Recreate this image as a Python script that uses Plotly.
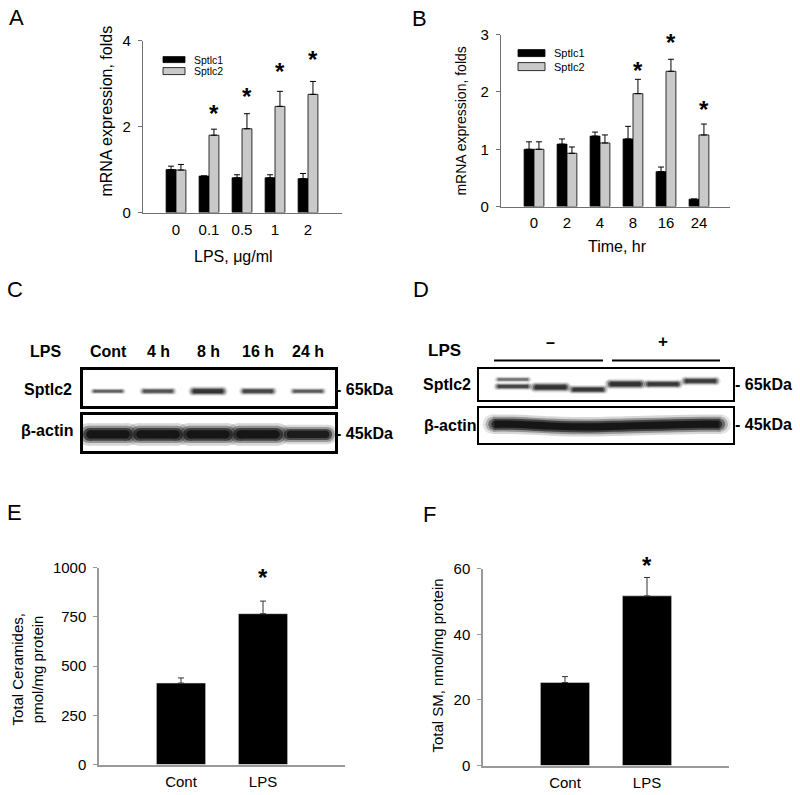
import plotly.graph_objects as go

W, H = 800, 795
FONT = "Liberation Sans, Arial, sans-serif"
# the photographed page is slightly squeezed vertically; compensate so positions land where intended
Y_OFF, Y_K = 9.4, 0.9786


def px(x):
    return x / W


def py(y):
    return 1 - ((y - Y_OFF) / Y_K) / H


# ---------------- data ----------------
# Panel A: dose response
a_doses = ["0", "0.1", "0.5", "1", "2"]
a_sptlc1 = [1.00, 0.85, 0.81, 0.81, 0.79]
a_sptlc1_err = [0.08, 0.0, 0.07, 0.07, 0.12]
a_sptlc2 = [0.99, 1.80, 1.95, 2.47, 2.75]
a_sptlc2_err = [0.13, 0.14, 0.35, 0.35, 0.30]
a_star = [None, 2.31, 2.69, 3.29, 3.57]

# Panel B: time course
b_times = ["0", "2", "4", "8", "16", "24"]
b_sptlc1 = [1.00, 1.09, 1.23, 1.18, 0.61, 0.13]
b_sptlc1_err = [0.13, 0.09, 0.07, 0.22, 0.08, 0.0]
b_sptlc2 = [1.00, 0.93, 1.11, 1.97, 2.36, 1.25]
b_sptlc2_err = [0.13, 0.11, 0.14, 0.25, 0.21, 0.19]
b_star = [None, None, None, 2.37, 2.86, 1.70]

# Panel C: western blot, time course
c_lanes = ["Cont", "4 h", "8 h", "16 h", "24 h"]
c_sptlc2_dark = [0.60, 0.68, 0.92, 0.78, 0.62]
c_sptlc2_thick = [4.0, 5.0, 6.5, 5.5, 4.5]
c_sptlc2_shift = [-0.2, -0.2, -0.2, -0.2, -0.2]
c_actin_dark = [1.3, 1.3, 1.3, 1.3, 1.2]
c_actin_thick = [15, 15, 15, 15, 13]
c_actin_shift = [-0.1, -0.1, -0.1, -0.1, -0.1]

# Panel D: western blot, -/+ LPS triplicates
d_groups = ["–", "+"]
d_sptlc2_dark = [0.78, 0.92, 0.88, 0.95, 0.9, 0.85]
d_sptlc2_thick = [5.0, 7.0, 6.0, 7.0, 6.0, 6.0]
d_sptlc2_shift = [-0.15, -0.2, -0.35, 0.0, 0.0, 0.2]
d_upper_dark = [0.5, 0, 0, 0, 0, 0]
d_upper_shift = [0.3, 0, 0, 0, 0, 0]
d_actin_thick = 13
d_actin_dark = 1.3
d_actin_shift = [0.05, -0.05, -0.1, -0.05, 0.0, 0.05]

# Panel E / F
ef_groups = ["Cont", "LPS"]
e_ceramide = [414, 766]
e_err = [26, 64]
e_range = [0, 1000]
e_star = [None, 949]
f_sm = [25.3, 51.7]
f_err = [1.8, 5.6]
f_range = [0, 60]
f_star = [None, 61.0]

BARGAP = 0.4
GRAY = "#c9c9c9"

fig = go.Figure()
ann = []


def err(arr, color="black"):
    return dict(type="data", array=arr, arrayminus=[0] * len(arr), symmetric=False,
                color=color, thickness=1, width=3)


def stars_ann(xs, ys, xa, ya, rng):
    # placed in the axis-domain frame so a star just above the axis top is still drawn
    for x, y in zip(xs, ys):
        ann.append(dict(text="<b>*</b>", x=x, y=(y - rng[0]) / (rng[1] - rng[0]), xref=xa, yref=ya + " domain",
                        showarrow=False, xanchor="center", yanchor="middle",
                        font=dict(family=FONT, size=24, color="black")))


def pair_panel(xa, ya, vals1, e1, vals2, e2, stars, rng):
    n = len(vals1)
    xs = list(range(n))
    fig.add_trace(go.Bar(x=xs, y=vals1, error_y=err(e1), marker=dict(color="black", line=dict(color="black", width=0.8)),
                         xaxis=xa, yaxis=ya, showlegend=False, hoverinfo="skip"))
    fig.add_trace(go.Bar(x=xs, y=vals2, error_y=err(e2), marker=dict(color=GRAY, line=dict(color="black", width=0.8)),
                         xaxis=xa, yaxis=ya, showlegend=False, hoverinfo="skip"))
    off = (1 - BARGAP) / 4
    sx = [i + off for i, s in enumerate(stars) if s is not None]
    sy = [s for s in stars if s is not None]
    stars_ann(sx, sy, xa, ya, rng)


a_range = [0, 4]
b_range = [0, 3]
pair_panel("x", "y", a_sptlc1, a_sptlc1_err, a_sptlc2, a_sptlc2_err, a_star, a_range)
pair_panel("x2", "y2", b_sptlc1, b_sptlc1_err, b_sptlc2, b_sptlc2_err, b_star, b_range)


def single_panel(xa, ya, vals, e, stars, rng):
    xs = list(range(len(vals)))
    fig.add_trace(go.Bar(x=xs, y=vals, marker=dict(color="black"), error_y=err(e, "#333"),
                         xaxis=xa, yaxis=ya, showlegend=False, hoverinfo="skip"))
    sx = [i for i, s in enumerate(stars) if s is not None]
    sy = [s for s in stars if s is not None]
    stars_ann(sx, sy, xa, ya, rng)


single_panel("x3", "y3", e_ceramide, e_err, e_star, e_range)
single_panel("x4", "y4", f_sm, f_err, f_star, f_range)


# ---------------- blot bands (soft, tapered, round-ended strokes) ----------------
BAND_LAYERS = [(1.0, 1.5, 0.12), (0.97, 1.15, 0.25), (0.93, 0.85, 0.45), (0.88, 0.55, 0.6)]


def add_band(xa, ya, lane, half, shift, thick, dark):
    if dark <= 0:
        return
    for ext, wmul, amul in BAND_LAYERS:
        w = thick * wmul
        fig.add_trace(go.Scatter(x=[lane - half * ext, lane + half * ext], y=[shift, shift], mode="lines+markers",
                                 line=dict(color="#0a0a0a", width=w),
                                 marker=dict(color="#0a0a0a", size=w, line=dict(width=0)),
                                 opacity=min(1.0, amul * dark),
                                 xaxis=xa, yaxis=ya, showlegend=False, hoverinfo="skip"))


def add_row_band(xa, ya, shifts, thick, dark, pad):
    # one continuous band following each lane's migration, ends padded past the outer lanes
    n = len(shifts)
    for ext, wmul, amul in BAND_LAYERS:
        w = thick * wmul
        xs = [-pad * ext] + list(range(n)) + [n - 1 + pad * ext]
        ys = [shifts[0]] + list(shifts) + [shifts[-1]]
        sizes = [w] + [0] * n + [w]
        fig.add_trace(go.Scatter(x=xs, y=ys, mode="lines+markers",
                                 line=dict(color="#0a0a0a", width=w, shape="spline"),
                                 marker=dict(color="#0a0a0a", size=sizes, line=dict(width=0)),
                                 opacity=min(1.0, amul * dark), xaxis=xa, yaxis=ya, showlegend=False,
                                 hoverinfo="skip"))


for i in range(len(c_lanes)):
    add_band("x5", "y5", i, 0.30, c_sptlc2_shift[i], c_sptlc2_thick[i], c_sptlc2_dark[i])
    add_band("x6", "y6", i, 0.40, c_actin_shift[i], c_actin_thick[i], c_actin_dark[i])

for i in range(len(d_sptlc2_dark)):
    add_band("x7", "y7", i, 0.42, d_upper_shift[i], 4.0, d_upper_dark[i])
    add_band("x7", "y7", i, 0.42, d_sptlc2_shift[i], d_sptlc2_thick[i], d_sptlc2_dark[i])
add_row_band("x8", "y8", d_actin_shift, d_actin_thick, d_actin_dark, 0.55)


# ---------------- axes ----------------
def chart_x(x0, x1, rng, vals, txt, size, color, lw, anchor, standoff):
    return dict(domain=[px(x0), px(x1)], range=rng, tickvals=vals, ticktext=txt, showline=True, linecolor=color,
                linewidth=lw, ticks="", showgrid=False, zeroline=False, tickfont=dict(family=FONT, size=size, color="black"),
                ticklabelstandoff=standoff, fixedrange=True, anchor=anchor)


def chart_y(y0, y1, rng, dtick, size, color, lw, anchor):
    return dict(domain=[py(y1), py(y0)], range=rng, dtick=dtick, showline=True, linecolor=color, linewidth=lw,
                ticks="outside", ticklen=4, tickcolor=color, tickwidth=1, showgrid=False, zeroline=False,
                tickfont=dict(family=FONT, size=size, color="black"), anchor=anchor, ticklabelstandoff=4,
                fixedrange=True)


AX_AB = "#707070"
AX_EF = "#999999"


def strip_x(x0, x1, rng, lw, anchor):
    return dict(domain=[px(x0), px(x1)], range=rng, showline=True, mirror=True, linecolor="black", linewidth=lw,
                showticklabels=False, ticks="", showgrid=False, zeroline=False, anchor=anchor, fixedrange=True)


def strip_y(y0, y1, lw, anchor):
    return dict(domain=[py(y1), py(y0)], range=[-1, 1], showline=True, mirror=True, linecolor="black", linewidth=lw,
                showticklabels=False, ticks="", showgrid=False, zeroline=False, anchor=anchor, fixedrange=True)


c_rng = [-0.5, 4.54]
d_rng = [-0.907, 5.867]

fig.update_layout(
    width=W, height=H, margin=dict(l=0, r=0, t=0, b=0), paper_bgcolor="white", plot_bgcolor="rgba(0,0,0,0)",
    barmode="group", bargap=BARGAP, bargroupgap=0, showlegend=False,
    font=dict(family=FONT, color="black"),
    xaxis=chart_x(143, 342, [-1.0, 5.03], list(range(5)), a_doses, 15, AX_AB, 1.2, "y", 3),
    yaxis=chart_y(41, 213, a_range, 2, 15, AX_AB, 1.2, "x"),
    xaxis2=chart_x(501, 730, [-1.0, 5.94], list(range(6)), b_times, 15, AX_AB, 1.2, "y2", 2),
    yaxis2=chart_y(35, 207, b_range, 1, 15, AX_AB, 1.2, "x2"),
    xaxis3=chart_x(99, 345, [-1, 2], [0, 1], ef_groups, 15, AX_EF, 1.5, "y3", 3),
    yaxis3=chart_y(568, 765, e_range, 250, 15, AX_EF, 1.5, "x3"),
    xaxis4=chart_x(483, 729, [-1, 2], [0, 1], ef_groups, 15, AX_EF, 1.5, "y4", 3),
    yaxis4=chart_y(569, 766, f_range, 20, 15, AX_EF, 1.5, "x4"),
    xaxis5=strip_x(83, 335, c_rng, 2.5, "y5"),
    yaxis5=strip_y(370, 406, 2.5, "x5"),
    xaxis6=strip_x(83, 335, c_rng, 2.5, "y6"),
    yaxis6=strip_y(415, 451, 2.5, "x6"),
    xaxis7=strip_x(479, 733, d_rng, 1.5, "y7"),
    yaxis7=strip_y(369, 400, 1.5, "x7"),
    xaxis8=strip_x(479, 733, d_rng, 1.5, "y8"),
    yaxis8=strip_y(408, 443, 1.5, "x8"),
)


def A(text, x, y, size, bold=False, angle=0, xanchor="center", xref="paper"):
    ann.append(dict(text=f"<b>{text}</b>" if bold else text, x=x if xref != "paper" else px(x), y=py(y),
                    xref=xref, yref="paper", showarrow=False, xanchor=xanchor, yanchor="middle", textangle=angle,
                    font=dict(family=FONT, size=size, color="black")))


# panel letters
for letter, lx, ly in [("A", 16, 18), ("B", 419, 19), ("C", 15, 290), ("D", 421, 290), ("E", 14, 513), ("F", 429, 515)]:
    A(letter, lx, ly, 22)

# axis titles
A("mRNA expression, folds", 107, 112, 16, angle=-90)
A("LPS, μg/ml", 233, 257, 16)
A("mRNA expression, folds", 461, 122, 14, angle=-90)
A("Time, hr", 617, 247, 16)
A("Total Ceramides,<br>pmol/mg protein", 28, 670, 15, angle=-90)
A("Total SM, nmol/mg protein", 438, 666, 15, angle=-90)

# manual legends
shapes = []
for (bx0, bx1, r1, r2, tx, fs) in [(163, 185, (57, 63), (68, 75), 192, 10.5), (518, 545, (50, 57), (63, 71), 552, 11)]:
    shapes.append(dict(type="rect", xref="paper", yref="paper", x0=px(bx0), x1=px(bx1), y0=py(r1[1]), y1=py(r1[0]),
                       fillcolor="black", line=dict(color="black", width=0.8)))
    shapes.append(dict(type="rect", xref="paper", yref="paper", x0=px(bx0), x1=px(bx1), y0=py(r2[1]), y1=py(r2[0]),
                       fillcolor=GRAY, line=dict(color="black", width=0.8)))
    A("Sptlc1", tx, (r1[0] + r1[1]) / 2, fs, xanchor="left")
    A("Sptlc2", tx, (r2[0] + r2[1]) / 2, fs, xanchor="left")

# blot C labels
A("LPS", 45, 352, 16, bold=True)
for i, lab in enumerate(c_lanes):
    A(lab, i, 352, 16, bold=True, xref="x5")
A("Sptlc2", 48, 390, 16, bold=True)
A("β-actin", 47, 431, 16, bold=True)
A("- 65kDa", 334, 390, 16, bold=True, xanchor="left")
A("- 45kDa", 334, 434, 16, bold=True, xanchor="left")

# blot D labels
A("LPS", 444, 351, 17, bold=True)
A(d_groups[0], 1, 343, 16, bold=True, xref="x7")
A(d_groups[1], 4, 342, 17, bold=True, xref="x7")
shapes.append(dict(type="line", xref="paper", yref="paper", x0=px(494), x1=px(603), y0=py(361), y1=py(361),
                   line=dict(color="black", width=2)))
shapes.append(dict(type="line", xref="paper", yref="paper", x0=px(612), x1=px(720), y0=py(361), y1=py(361),
                   line=dict(color="black", width=2)))
A("Sptlc2", 447, 385, 16, bold=True)
A("β-actin", 450, 426, 16, bold=True)
A("- 65kDa", 733, 385, 16, bold=True, xanchor="left")
A("- 45kDa", 733, 425, 16, bold=True, xanchor="left")

fig.update_layout(annotations=ann, shapes=shapes)
fig.write_html("out.html", config={"displayModeBar": False},
               post_script="document.body.style.margin='0';document.body.style.overflow='hidden';")
